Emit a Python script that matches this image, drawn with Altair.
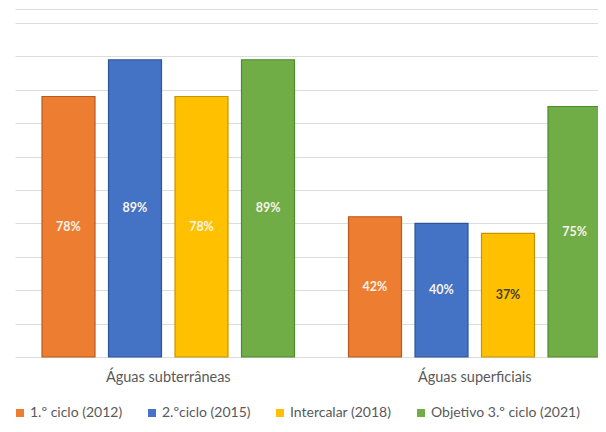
import altair as alt
import pandas as pd

groups = ["Águas subterrâneas", "Águas superficiais"]
series = ["1.º ciclo (2012)", "2.ºciclo (2015)", "Intercalar (2018)", "Objetivo 3.º ciclo (2021)"]
subterraneas = [78, 89, 78, 89]
superficiais = [42, 40, 37, 75]
colors = ["#ED7D31", "#4472C4", "#FFC000", "#70AD47"]
edge_colors = ["#B85A1F", "#2F5597", "#C59500", "#4E8A2E"]
label_colors_sub = ["#F7F3EA", "#F7F3EA", "#F7F3EA", "#F7F3EA"]
label_colors_sup = ["#F7F3EA", "#F7F3EA", "#4A4326", "#F7F3EA"]
grid_values = [0, 10, 20, 30, 40, 50, 60, 70, 80, 90, 100, 104.2]

rows = []
for g, vals, lcs in [(groups[0], subterraneas, label_colors_sub), (groups[1], superficiais, label_colors_sup)]:
    for s, v, lc in zip(series, vals, lcs):
        rows.append({"grupo": g, "serie": s, "valor": v, "rotulo": f"{v}%", "cor_rotulo": lc})
df = pd.DataFrame(rows)

FONT = "Lato"

x = alt.X(
    "grupo:N",
    sort=groups,
    scale=alt.Scale(range=[0, 613], paddingInner=0, paddingOuter=0),
    axis=alt.Axis(title=None, labelAngle=0, ticks=False, tickSize=0, domain=False,
                  labelPadding=13, labelFontSize=14.5, labelColor="#595959", labelFont=FONT),
)
xo = alt.XOffset("serie:N", sort=series, scale=alt.Scale(paddingInner=0.203, paddingOuter=0.406))
yscale = alt.Scale(domain=[0, 104.2], nice=False, zero=True)
yaxis = alt.Axis(title=None, labels=False, ticks=False, domain=False, grid=True,
                 values=grid_values, gridColor="#DDDDDD", gridWidth=1)

base = alt.Chart(df)

bars = base.mark_bar(strokeWidth=1.2).encode(
    x=x,
    xOffset=xo,
    y=alt.Y("valor:Q", scale=yscale, axis=yaxis),
    color=alt.Color(
        "serie:N",
        sort=series,
        scale=alt.Scale(domain=series, range=colors),
        legend=alt.Legend(
            orient="none", legendX=-2, legendY=397, direction="horizontal", title=None,
            symbolType="square", symbolSize=64, symbolStrokeWidth=0,
            labelFontSize=14, labelColor="#595959", labelFont=FONT, labelOffset=3,
            columnPadding=22, padding=0,
        ),
    ),
    stroke=alt.Stroke("serie:N", sort=series,
                      scale=alt.Scale(domain=series, range=edge_colors), legend=None),
)

labels = base.mark_text(fontWeight="bold", fontSize=12.5, font=FONT).encode(
    x=x,
    xOffset=xo,
    y=alt.Y("meio:Q", scale=yscale, axis=yaxis),
    text="rotulo:N",
    color=alt.Color("cor_rotulo:N", scale=None),
).transform_calculate(meio="datum.valor / 2")

chart = (
    alt.layer(bars, labels)
    .resolve_scale(color="independent")
    .properties(
        width=583,
        height=348,
        padding={"left": 7, "top": 1, "right": 0, "bottom": 75},
        autosize=alt.AutoSizeParams(type="none"),
        background="white",
    )
    .configure_view(stroke=None)
)

chart.save("out.html", embed_options={"renderer": "svg", "actions": False})
